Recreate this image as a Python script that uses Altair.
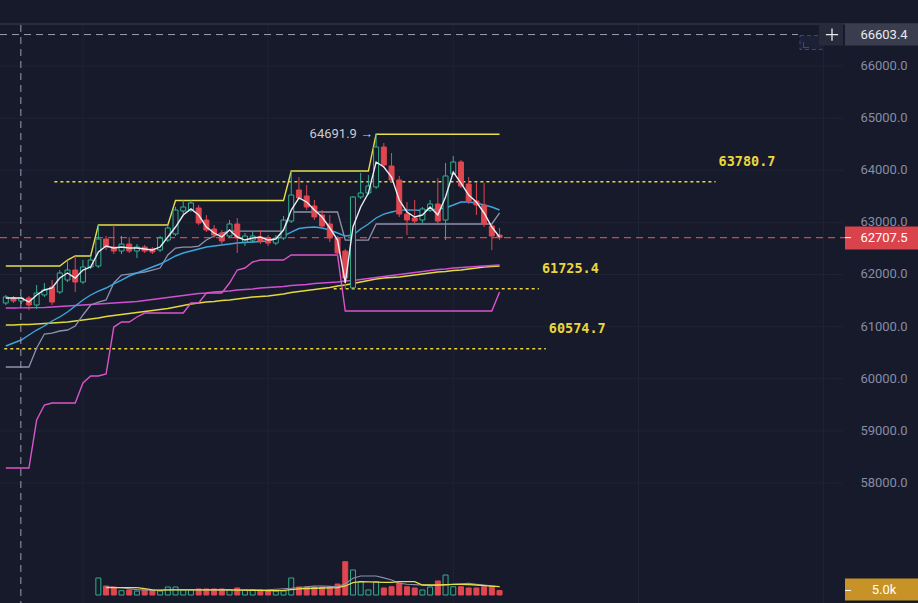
import altair as alt
import pandas as pd

# ---- palette ---------------------------------------------------------------
BG = "#161a2a"
GRID = "#1f2435"
TEAL = "#33b08f"
RED = "#e0464f"
YEL = "#e6df4a"
LVL = "#ecd53c"
PINK = "#d955c9"
MAG = "#d24fd3"
GRAY = "#8e91aa"
BLUE = "#3fa5dc"
WHITE = "#e9ecf4"
AXIS = "#878ca5"

# ---- candles ---------------------------------------------------------------
opens = [61453, 61549, 61491, 61549, 61415, 61607, 61760, 61664, 61894, 62086,
         61856, 62144, 62163, 62680, 62527, 62450, 62584, 62450, 62527, 62489,
         62470, 62661, 62777, 63218, 63237, 63276, 63045, 62873, 62796, 62738,
         62969, 62623, 62661, 62719, 62700, 62603, 62700, 63026, 63621, 63506,
         63314, 63141, 62969, 62700, 62450, 61745, 63487, 63564, 63679, 64446,
         64081, 63813, 63160, 63084, 63045, 63237, 63352, 63045, 63928, 64158,
         63736, 63410, 63333, 62930, 62757]
highs = [61607, 61588, 61588, 61588, 61799, 61837, 61894, 62086, 62278, 62355,
         62278, 62355, 62950, 62738, 62950, 62738, 62719, 62584, 62565, 62527,
         62738, 62950, 63295, 63420, 63420, 63333, 63141, 62950, 62853, 63045,
         63084, 62796, 62815, 62853, 62757, 62757, 63122, 63985, 63870, 63717,
         63429, 63237, 63141, 62738, 62489, 63506, 63950, 63908, 64691.9, 64523,
         64331, 63890, 63391, 63429, 63295, 63429, 63851, 64139, 64273, 64196,
         63870, 63755, 63755, 62988, 62892]
lows = [61415, 61453, 61434, 61319, 61338, 61569, 61415, 61626, 61856, 61664,
        61818, 62105, 62124, 62470, 62393, 62393, 62412, 62316, 62412, 62393,
        62431, 62623, 62738, 63160, 63199, 62950, 62815, 62700, 62584, 62700,
        62412, 62546, 62603, 62584, 62546, 62565, 62661, 62988, 63429, 63237,
        63045, 62892, 62623, 62355, 61725.4, 61730, 63448, 63525, 63640, 64043,
        63755, 63103, 62757, 62969, 62988, 63199, 62969, 62661, 63908, 63659,
        63352, 63141, 62911, 62470, 62661]
closes = [61569, 61491, 61549, 61415, 61645, 61703, 61472, 62029, 62086, 61856,
          62144, 62278, 62680, 62527, 62450, 62584, 62450, 62527, 62450, 62431,
          62700, 62892, 63237, 63295, 63372, 62988, 62853, 62757, 62642, 62969,
          62700, 62738, 62738, 62642, 62603, 62700, 63045, 63525, 63468, 63295,
          63103, 62930, 62700, 62412, 61933, 63487, 63564, 63698, 64446, 64101,
          63813, 63160, 63045, 63026, 63257, 63352, 63026, 63890, 64158, 63698,
          63410, 63333, 62969, 62738, 62707.5]
volumes = [None] * 12 + [
    18900, 10000, 8900, 4800, 5600, 4400, 5600, 5600, 4400, 8900,
    8900, 5600, 5600, 6700, 6700, 6700, 6700, 5600, 7800, 5600,
    5600, 5600, 5600, 4400, 4400, 18900, 8900, 8900, 8900, 8900,
    8900, 12200, 37000, 27800, 14800, 5600, 14800, 7800, 9200, 13300,
    9200, 7800, 5600, 8900, 15600, 22200, 9200, 9200, 7800, 7800,
    9200, 10000, 5000]

# ---- volume averages -------------------------------------------------------
vol_ma_fast = [None] * 13 + [
    8100, 8100, 8100, 8100, 8100, 7000, 5600, 5500, 5600, 5700,
    5700, 5600, 5600, 5700, 5800, 5700, 5600, 5500, 5400, 5300,
    5200, 4900, 4800, 5200, 6000, 6700, 7200, 7500, 7800, 8000,
    8100, 10000, 13700, 14800, 14600, 14300, 14100, 14100, 14800, 14800,
    14800, 11100, 11100, 11100, 11500, 11900, 11900, 11500, 11100, 10500,
    9800, 9200]
vol_ma_slow = [None] * 13 + [
    9200, 8500, 8100, 7000, 6000, 5600, 5200, 5300, 5500, 5800,
    5900, 5800, 5600, 5500, 5600, 5700, 5600, 5500, 5500, 5600,
    5600, 5900, 6400, 6900, 7500, 8400, 9200, 10000, 10000, 9600,
    9200, 12500, 18600, 21100, 21100, 21100, 19000, 16700, 13000, 12000,
    11500, 11100, 10700, 10500, 11000, 11900, 12500, 13000, 12000, 11100,
    10000, 9200]

# ---- price indicators ------------------------------------------------------
chan_upper = [62163] * 8 + [62278] + [62355] * 3 + [62950] * 10 + [63420] * 15 \
    + [63985] * 11 + [64691.9] * 17
chan_lower = [58287] * 4 + [59208, 59496] + [59535] * 4 + [59919, 60053, 60053, 60091,
    60992, 61088, 61088, 61185] + [61261] * 6 + [61453, 61453, 61645, 61645, 61645,
    61837, 62086, 62124, 62240] + [62278] * 4 + [62374] * 7 + [61300] * 20 + [61664]
chan_mid = [60225] * 4 + [60590, 60858, 60877, 60916, 60935, 61012, 61223, 61415,
    61472, 61511, 61837, 61990, 62009, 62029, 62048, 62086, 62124, 62374, 62508,
    62527, 62527, 62546, 62661, 62738, 62796, 62834] + [62834] * 7 + [63199] * 7 \
    + [62661] * 4 + [62969] * 16 + [63180]
ma_fast = [61549, 61549, 61549, 61472, 61607, 61703, 61741, 61933, 62029, 61933,
           62086, 62144, 62431, 62546, 62508, 62527, 62508, 62508, 62489, 62470,
           62527, 62719, 62911, 63141, 63257, 63141, 62911, 62796, 62719, 62853,
           62719, 62661, 62700, 62719, 62661, 62680, 62853, 63237, 63468, 63391,
           63237, 63103, 62892, 62661, 61837, 62911, 63295, 63564, 64158, 64062,
           63870, 63429, 63199, 63103, 63141, 63295, 63141, 63487, 63966, 63755,
           63525, 63391, 63180, 62911, 62719]
ma_mid = [60628, 60686, 60743, 60839, 60935, 61012, 61108, 61185, 61281, 61396,
          61511, 61607, 61683, 61741, 61818, 61894, 61971, 62029, 62086, 62144,
          62201, 62278, 62355, 62412, 62450, 62489, 62527, 62546, 62565, 62584,
          62603, 62614, 62623, 62633, 62642, 62680, 62738, 62815, 62882, 62901,
          62911, 62892, 62853, 62796, 62738, 62757, 62873, 62969, 63084, 63160,
          63199, 63230, 63240, 63235, 63228, 63240, 63257, 63276, 63333, 63391,
          63391, 63372, 63333, 63295, 63237]
ma_long_a = [61357, 61357, 61360, 61362, 61365, 61367, 61377, 61386, 61396, 61405,
             61415, 61424, 61434, 61444, 61453, 61463, 61472, 61482, 61501, 61520,
             61539, 61559, 61578, 61597, 61616, 61635, 61645, 61664, 61674, 61683,
             61703, 61712, 61722, 61741, 61750, 61760, 61770, 61789, 61799, 61808,
             61827, 61837, 61847, 61856, 61875, 61885, 61904, 61923, 61942, 61962,
             61981, 62000, 62019, 62038, 62058, 62077, 62096, 62105, 62124, 62134,
             62144, 62153, 62163, 62172, 62182]
ma_long_b = [61031, 61031, 61041, 61041, 61050, 61060, 61069, 61079, 61088, 61108,
             61127, 61146, 61165, 61194, 61213, 61232, 61252, 61271, 61290, 61309,
             61329, 61348, 61377, 61405, 61434, 61453, 61472, 61482, 61501, 61511,
             61530, 61549, 61568, 61578, 61588, 61607, 61626, 61655, 61674, 61693,
             61712, 61731, 61750, 61779, 61799, 61827, 61856, 61885, 61914, 61933,
             61942, 61952, 61971, 61990, 62009, 62029, 62048, 62058, 62077, 62086,
             62105, 62124, 62144, 62153, 62163]

# ---- horizontal levels (price, first/last candle index they span) ----------
level_price = [63780.7, 61725.4, 60574.7]
level_from = [6.3, 42.5, -0.2]
level_to = [92.0, 69.1, 70.0]

axis_prices = [58000, 59000, 60000, 61000, 62000, 63000, 64000, 65000, 66000]
grid_index = [10, 34, 58, 82, 106]
cursor_index = 1.95
cursor_price = 66603.4

# ---- scales ----------------------------------------------------------------
W, H = 918, 603
STEP = 7.8
X0 = 0.8
xs = alt.Scale(domain=[-X0 / STEP, (W - X0) / STEP], nice=False, zero=False)
ps = alt.Scale(domain=[55697.8, 67266.2], nice=False, zero=False)
vs = alt.Scale(domain=[0, 45000], range=[595, 554.5], nice=False, zero=False)

n = len(opens)
df = pd.DataFrame({
    "i": list(range(n)), "open": opens, "high": highs, "low": lows, "close": closes,
    "vol": volumes, "vma_fast": vol_ma_fast, "vma_slow": vol_ma_slow,
    "upper": chan_upper, "lower": chan_lower, "mid": chan_mid,
    "ma_fast": ma_fast, "ma_mid": ma_mid, "ma_long_a": ma_long_a, "ma_long_b": ma_long_b,
})
levels = pd.DataFrame({"p": level_price, "a": level_from, "b": level_to})
ticks = pd.DataFrame({"p": axis_prices})
grid = pd.DataFrame({"i": grid_index})
last = pd.DataFrame({"p": [closes[-1]], "v": [volumes[-1]]})
cursor = pd.DataFrame({"i": [cursor_index], "p": [cursor_price]})
top_i = max(range(n), key=lambda k: highs[k])
peak = pd.DataFrame({"i": [top_i], "p": [highs[top_i]]})

X = alt.X("i:Q", scale=xs, axis=None)


def PY(field):
    return alt.Y(f"{field}:Q", scale=ps, axis=None)


base = alt.Chart(df)
up = "datum.close >= datum.open"

layers = []

# grid and frame
layers.append(alt.Chart(ticks).mark_rule(color=GRID, strokeWidth=1).encode(
    y=PY("p"), x=alt.value(0), x2=alt.value(843)))
layers.append(alt.Chart(grid).mark_rule(color=GRID, strokeWidth=1).encode(
    x=X, y=alt.value(25), y2=alt.value(H)))
layers.append(alt.Chart(grid).mark_rule(color="#2a2e40", strokeWidth=1).encode(
    x=alt.value(0), x2=alt.value(W), y=alt.value(24)))

# dotted levels
layers.append(alt.Chart(levels).mark_rule(color=LVL, strokeWidth=1.5, strokeDash=[3, 3]).encode(
    x=alt.X("a:Q", scale=xs, axis=None), x2="b:Q", y=PY("p")))
layers.append(alt.Chart(levels).mark_text(
    color=LVL, font="DejaVu Sans Mono", fontSize=13.5, fontWeight=600,
    align="left", baseline="middle", dx=3, dy=-20).encode(
    x=alt.X("b:Q", scale=xs, axis=None), y=PY("p"), text=alt.Text("p:Q", format=".1f")))

# last price line
layers.append(alt.Chart(last).mark_rule(color="#d9434b", strokeWidth=1.2, strokeDash=[7, 5]).encode(
    y=PY("p"), x=alt.value(0), x2=alt.value(845)))

# long averages and channels
for field, col, w in [("ma_long_b", "#e3d93c", 1.4), ("ma_long_a", MAG, 1.4),
                      ("lower", PINK, 1.4), ("mid", GRAY, 1.3), ("upper", YEL, 1.4),
                      ("ma_mid", BLUE, 1.4)]:
    layers.append(base.mark_line(color=col, strokeWidth=w).encode(x=X, y=PY(field)))

# candles
layers.append(base.mark_rule(strokeWidth=1).encode(
    x=X, y=PY("low"), y2="high",
    color=alt.condition(up, alt.value(TEAL), alt.value(RED))))
layers.append(base.mark_bar(size=5, strokeWidth=1).encode(
    x=X, y=PY("open"), y2="close",
    fill=alt.condition(up, alt.value(BG), alt.value(RED)),
    stroke=alt.condition(up, alt.value(TEAL), alt.value(RED))))

# fast average on top
layers.append(base.mark_line(color=WHITE, strokeWidth=1.4).encode(x=X, y=PY("ma_fast")))

# volume pane
layers.append(base.transform_filter("isValid(datum.vol)").mark_bar(size=5, strokeWidth=1).encode(
    x=X, y=alt.Y("vol:Q", scale=vs, axis=None), y2=alt.datum(0),
    fill=alt.condition(up, alt.value(BG), alt.value(RED)),
    stroke=alt.condition(up, alt.value(TEAL), alt.value(RED))))
layers.append(base.mark_line(color=GRAY, strokeWidth=1.1).encode(
    x=X, y=alt.Y("vma_slow:Q", scale=vs, axis=None)))
layers.append(base.mark_line(color=YEL, strokeWidth=1.3).encode(
    x=X, y=alt.Y("vma_fast:Q", scale=vs, axis=None)))

# session high marker
layers.append(alt.Chart(peak).transform_calculate(t="format(datum.p, '.1f') + ' →'").mark_text(
    color="#c9ccd8", font="Roboto", fontSize=13, align="right", baseline="middle", dx=-3).encode(
    x=X, y=PY("p"), text="t:N"))

# crosshair
layers.append(alt.Chart(cursor).mark_rule(color="#9a9db0", strokeWidth=1, strokeDash=[7, 5]).encode(
    x=X, y=alt.value(25), y2=alt.value(H)))
layers.append(alt.Chart(cursor).mark_rule(color="#9a9db0", strokeWidth=1, strokeDash=[7, 5]).encode(
    y=PY("p"), x=alt.value(0), x2=alt.value(798)))
layers.append(alt.Chart(cursor).mark_rect(
    fill="#1c2136", stroke="#3b4888", strokeWidth=1, strokeDash=[4, 3],
    yOffset=1, y2Offset=15).encode(
    x=alt.value(800), x2=alt.value(822), y=PY("p"), y2=alt.Y2("p:Q")))
layers.append(alt.Chart(cursor).mark_rule(color="#3b4888", strokeWidth=1).encode(
    x=alt.value(803.5), y=alt.value(42), y2=alt.value(48)))
layers.append(alt.Chart(cursor).mark_rule(color="#3b4888", strokeWidth=1).encode(
    x=alt.value(803), x2=alt.value(809), y=alt.value(47.5)))
layers.append(alt.Chart(cursor).mark_rect(color="#262a3b", yOffset=-11, y2Offset=11).encode(
    x=alt.value(819), x2=alt.value(843), y=PY("p"), y2=alt.Y2("p:Q")))
layers.append(alt.Chart(cursor).mark_point(
    shape="M-1,0L1,0M0,-1L0,1", size=150, filled=False, stroke="#e8eaf0",
    strokeWidth=1.3, opacity=1).encode(x=alt.value(832), y=PY("p")))

# price axis labels
layers.append(alt.Chart(ticks).mark_text(
    color=AXIS, font="Roboto", fontSize=13, align="center", baseline="middle").encode(
    x=alt.value(884), y=PY("p"), text=alt.Text("p:Q", format=".1f")))

# value tags
layers.append(alt.Chart(cursor).mark_rect(color="#393d4e", yOffset=-11, y2Offset=11).encode(
    x=alt.value(845), x2=alt.value(W), y=PY("p"), y2=alt.Y2("p:Q")))
layers.append(alt.Chart(cursor).mark_text(
    color="#e8eaf0", font="Roboto", fontSize=13, align="center", baseline="middle").encode(
    x=alt.value(884), y=PY("p"), text=alt.Text("p:Q", format=".1f")))

layers.append(alt.Chart(last).mark_rect(color="#d9434b", yOffset=-11, y2Offset=12).encode(
    x=alt.value(845), x2=alt.value(W), y=PY("p"), y2=alt.Y2("p:Q")))
layers.append(alt.Chart(last).mark_rule(color="#ffffff", strokeWidth=1).encode(
    x=alt.value(845), x2=alt.value(851), y=PY("p")))
layers.append(alt.Chart(last).mark_text(
    color="#ffffff", font="Roboto", fontSize=13, align="center", baseline="middle").encode(
    x=alt.value(884), y=PY("p"), text=alt.Text("p:Q", format=".1f")))

layers.append(alt.Chart(last).mark_rect(color="#c79226", yOffset=-12, y2Offset=10).encode(
    x=alt.value(845), x2=alt.value(W), y=alt.Y("v:Q", scale=vs, axis=None), y2=alt.Y2("v:Q")))
layers.append(alt.Chart(last).mark_rule(color="#ffffff", strokeWidth=1).encode(
    x=alt.value(845), x2=alt.value(851), y=alt.Y("v:Q", scale=vs, axis=None)))
layers.append(alt.Chart(last).transform_calculate(t="format(datum.v / 1000, '.1f') + 'k'").mark_text(
    color="#ffffff", font="Roboto", fontSize=13, align="center", baseline="middle", dy=-1).encode(
    x=alt.value(884), y=alt.Y("v:Q", scale=vs, axis=None), text="t:N"))

chart = alt.layer(*layers).resolve_scale(y="independent").properties(
    width=W, height=H, background=BG, padding=0, autosize=alt.AutoSizeParams(type="none"),
).configure_view(stroke=None)

chart.save("out.html", embed_options={"renderer": "svg", "actions": False})
